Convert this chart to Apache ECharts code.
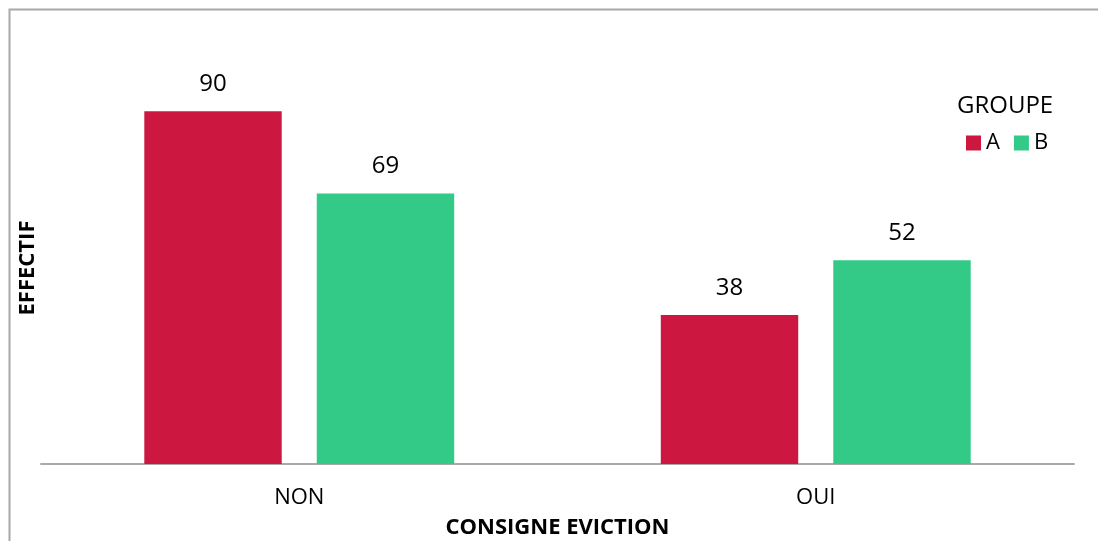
<!DOCTYPE html>
<html>
<head>
<meta charset="utf-8">
<script src="https://cdn.jsdelivr.net/npm/echarts@6/dist/echarts.min.js"></script>
<style>
html,body{margin:0;padding:0;background:#fff;}
#chart{width:1098px;height:541px;}
</style>
</head>
<body>
<div id="chart"></div>
<script>
const categories = ['NON', 'OUI'];
const seriesNames = ['A', 'B'];
const valuesA = [90, 38];
const valuesB = [69, 52];
const xAxisTitle = 'CONSIGNE EVICTION';
const yAxisTitle = 'EFFECTIF';
const legendTitle = 'GROUPE';

const FONT = '"Open Sans", Lato, sans-serif';
const chart = echarts.init(document.getElementById('chart'));
chart.setOption({
  animation: false,
  textStyle: { fontFamily: FONT },
  color: ['#CC1841', '#33C986'],
  graphic: [
    { type: 'rect', left: 7, top: 7, shape: { width: 1200, height: 700 },
      style: { fill: 'none', stroke: '#a8a8a8', lineWidth: 2 }, silent: true },
    { type: 'text', left: 957, top: 94,
      style: { text: legendTitle, fontSize: 24, fontFamily: FONT, fill: '#000' } }
  ],
  legend: {
    data: seriesNames,
    left: 961, top: 127,
    icon: 'rect', itemWidth: 15, itemHeight: 15, itemGap: 14,
    textStyle: { fontSize: 22, color: '#000', fontFamily: FONT }
  },
  grid: { left: 41, right: 24, top: 72, bottom: 77, outerBoundsMode: 'none', containLabel: false },
  xAxis: {
    type: 'category', data: categories,
    axisLine: { lineStyle: { color: '#aaaaaa', width: 2 } },
    axisTick: { show: false },
    axisLabel: { fontSize: 22, color: '#000', margin: 23 },
    name: xAxisTitle, nameLocation: 'middle', nameGap: 53,
    nameTextStyle: { fontSize: 22, fontWeight: 'bold', color: '#000' }
  },
  yAxis: {
    type: 'value', min: 0, max: 100,
    axisLine: { show: false }, axisTick: { show: false },
    axisLabel: { show: false }, splitLine: { show: false },
    name: yAxisTitle, nameLocation: 'middle', nameGap: 2, nameRotate: 90,
    nameTextStyle: { fontSize: 22, fontWeight: 'bold', color: '#000' }
  },
  series: [
    { name: seriesNames[0], type: 'bar', data: valuesA, barGap: '25.5%', barCategoryGap: '40%',
      label: { show: true, position: 'top', distance: 15, fontSize: 24, color: '#000' } },
    { name: seriesNames[1], type: 'bar', data: valuesB,
      label: { show: true, position: 'top', distance: 15, fontSize: 24, color: '#000' } }
  ]
});
</script>
</body>
</html>
